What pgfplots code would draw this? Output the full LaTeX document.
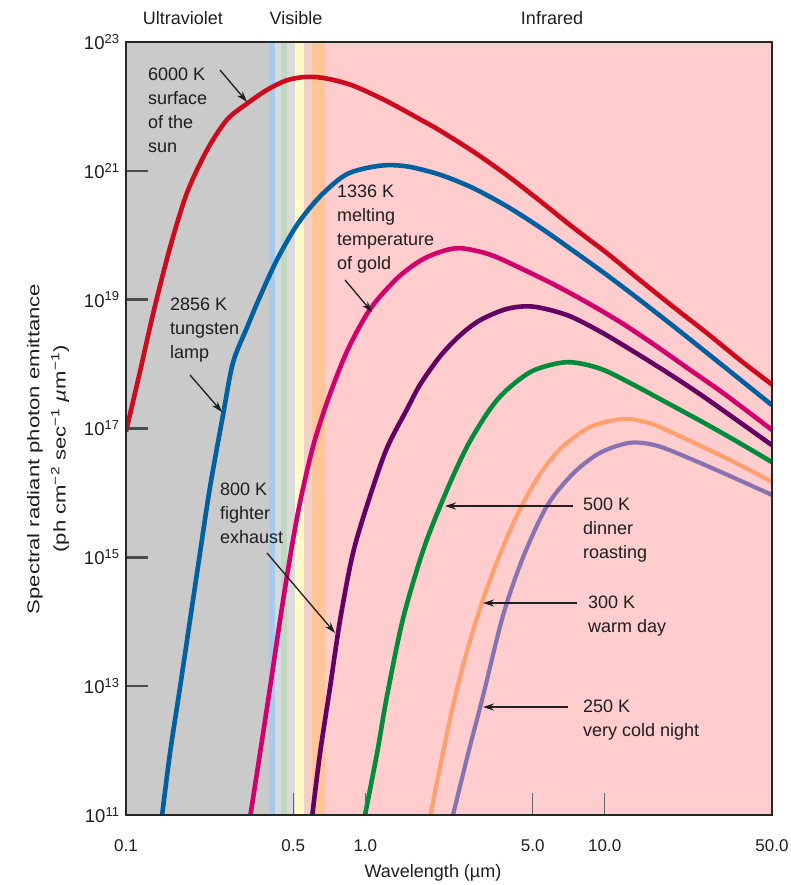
\documentclass[border=0pt]{standalone}
\usepackage{pgfplots}
\pgfplotsset{compat=1.18}
\usetikzlibrary{arrows.meta}
\usepackage{fontspec}
\setmainfont{Liberation Sans}
\newfontfamily\ylabfont[FakeStretch=1.3]{Liberation Sans}
\definecolor{cred}{RGB}{206,10,30}
\definecolor{cblue}{RGB}{0,96,160}
\definecolor{cmag}{RGB}{210,0,110}
\definecolor{cpur}{RGB}{100,0,100}
\definecolor{cgreen}{RGB}{0,140,60}
\definecolor{corange}{RGB}{255,160,110}
\definecolor{clav}{RGB}{135,115,175}
\definecolor{uvgray}{RGB}{202,202,202}
\definecolor{bblue}{RGB}{168,202,236}
\definecolor{blight}{RGB}{212,218,222}
\definecolor{bgreen}{RGB}{192,216,192}
\definecolor{bgray}{RGB}{218,218,218}
\definecolor{byellow}{RGB}{255,250,200}
\definecolor{bpink}{RGB}{242,208,202}
\definecolor{borange}{RGB}{255,196,152}
\definecolor{irpink}{RGB}{255,205,205}
\definecolor{txt}{RGB}{30,30,30}
\begin{document}
\begin{tikzpicture}[x=1pt,y=1pt]
\useasboundingbox (-126,-70) rectangle (665,815);
\begin{axis}[
  at={(0,0)}, anchor=south west,
  scale only axis, width=646pt, height=773pt,
  xmode=log, ymode=log,
  xmin=0.1, xmax=50, ymin=1e11, ymax=1e23,
  axis on top,
  axis line style={line width=2pt, black!85},
  tick align=inside,
  major tick length=22pt,
  xtick={0.1,0.5,1,5,10,50},
  xticklabels={0.1,0.5,1.0,5.0,10.0,50.0},
  ytick={1e11,1e13,1e15,1e17,1e19,1e21,1e23},
  yticklabels={10\textsuperscript{11},10\textsuperscript{13},10\textsuperscript{15},10\textsuperscript{17},10\textsuperscript{19},10\textsuperscript{21},10\textsuperscript{23}},
  minor xtick={}, minor ytick={},
  xtick pos=bottom, ytick pos=left,
  x tick style={line width=1.2pt, black!60},
  y tick style={line width=2.4pt, black!70},
  xticklabel style={font=\fontsize{17}{20}\selectfont, text=txt, yshift=-21pt},
  yticklabel style={font=\fontsize{18.5}{20}\selectfont, text=txt, xshift=-3pt},
  clip=true,
]
% spectral bands
\fill[uvgray] (axis cs:0.1,1e11) rectangle (axis cs:0.396,1e23);
\fill[bblue] (axis cs:0.396,1e11) rectangle (axis cs:0.4196,1e23);
\fill[blight] (axis cs:0.4196,1e11) rectangle (axis cs:0.4443,1e23);
\fill[bgreen] (axis cs:0.4443,1e11) rectangle (axis cs:0.4704,1e23);
\fill[bgray] (axis cs:0.4704,1e11) rectangle (axis cs:0.5085,1e23);
\fill[byellow] (axis cs:0.5085,1e11) rectangle (axis cs:0.5557,1e23);
\fill[bpink] (axis cs:0.5557,1e11) rectangle (axis cs:0.5998,1e23);
\fill[borange] (axis cs:0.5998,1e11) rectangle (axis cs:0.6775,1e23);
\fill[irpink] (axis cs:0.6775,1e11) rectangle (axis cs:50,1e23);

% 6000 K
\addplot[cred, line width=4.6pt, smooth] coordinates {
(0.1,9e16) (0.114,7.2e17) (0.130,6.2e18) (0.153,6.6e19) (0.180,4.6e20)
(0.218,2.1e21) (0.264,6.2e21) (0.320,1.1e22) (0.388,1.8e22) (0.471,2.55e22)
(0.571,2.88e22) (0.692,2.7e22) (0.888,2.1e22) (1.232,1.2e22) (1.693,6.3e21)
(2.052,4.2e21) (2.818,2.0e21) (3.909,8.5e20) (5.370,3.4e20) (7.38,1.32e20)
(10.23,5.25e19) (14.06,2.0e19) (19.32,7.76e18) (26.8,3.0e18) (36.8,1.15e18) (50,4.8e17)};
% 2856 K
\addplot[cblue, line width=4.6pt, smooth] coordinates {
(0.1405,8e10) (0.1527,9.1e11) (0.1681,9.5e12) (0.1851,1.05e14) (0.2038,1.17e15)
(0.2244,1.23e16) (0.2543,1.62e17) (0.2799,1.05e18) (0.3204,3.7e18) (0.3631,1.12e19)
(0.4276,4.17e19) (0.5184,1.45e20) (0.6467,4.0e20) (0.8385,8.9e20) (1.152,1.2e21)
(1.494,1.17e21) (2.052,8.7e20) (2.818,5.4e20) (3.909,2.8e20) (5.370,1.32e20)
(7.38,5.75e19) (10.23,2.4e19) (14.06,9.8e18) (19.32,3.9e18) (26.8,1.48e18)
(36.8,5.75e17) (50,2.3e17)};
% 1336 K
\addplot[cmag, line width=4.6pt, smooth] coordinates {
(0.3280,8e10) (0.3631,9.1e11) (0.3998,9.5e12) (0.4401,1.05e14) (0.4845,1.0e15)
(0.5334,7.1e15) (0.6045,5.25e16) (0.698,2.8e17) (0.8385,1.58e18) (1.046,7.1e18)
(1.357,2.14e19) (1.693,4.0e19) (2.052,5.5e19) (2.488,6.3e19) (3.319,5.0e19)
(4.560,2.95e19) (6.327,1.62e19) (8.69,8.5e18) (11.94,4.2e18) (16.56,1.86e18)
(22.75,8.1e17) (31.25,3.55e17) (50,9.5e16)};
% 800 K
\addplot[cpur, line width=4.6pt, smooth] coordinates {
(0.596,8e10) (0.6467,9.1e11) (0.712,9.5e12) (0.784,1.05e14) (0.8884,1.17e15)
(1.046,8.9e15) (1.232,5.0e16) (1.494,2.0e17) (1.693,4.8e17) (2.052,1.32e18)
(2.488,2.8e18) (3.017,4.8e18) (3.909,7.2e18) (5.02,7.8e18) (6.97,5.75e18)
(9.57,3.2e18) (13.15,1.58e18) (18.23,7.4e17) (25.04,3.4e17) (34.4,1.48e17) (50,5.5e16)};
% 500 K
\addplot[cgreen, line width=4.6pt, smooth] coordinates {
(0.985,8e10) (1.119,9.1e11) (1.232,7.1e12) (1.437,1.12e14) (1.759,1.41e15)
(2.195,1.12e16) (2.686,5.6e16) (3.319,2.0e17) (3.909,4.0e17) (5.02,7.9e17)
(6.97,1.07e18) (9.57,8.5e17) (13.15,4.8e17) (18.23,2.5e17) (25.04,1.32e17)
(34.4,6.8e16) (50,3.0e16)};
% 300 K
\addplot[corange, line width=4.2pt, smooth] coordinates {
(1.85,8e10) (2.052,5.6e11) (2.326,5.0e12) (2.661,3.55e13) (3.104,2.24e14)
(3.655,1.12e15) (4.304,4.5e15) (5.218,1.66e16) (6.51,4.8e16) (8.69,1.05e17)
(11.94,1.41e17) (15.48,1.2e17) (19.32,8.5e16) (26.8,4.8e16) (36.8,2.7e16) (50,1.48e16)};
% 250 K
\addplot[clav, line width=4.2pt, smooth] coordinates {
(2.29,8e10) (2.686,8.9e11) (3.104,7.1e12) (3.763,1.26e14) (4.560,1.0e15)
(5.745,6.3e15) (7.38,2.0e16) (9.57,4.2e16) (12.77,6.0e16) (16.56,5.4e16)
(22.75,3.4e16) (31.25,2.04e16) (50,9.3e15)};
\end{axis}

% top region labels
\begin{scope}[every node/.style={font=\fontsize{18}{22}\selectfont, text=txt, inner sep=0pt}]
\node[anchor=base] at (57,790) {Ultraviolet};
\node[anchor=base] at (170,790) {Visible};
\node[anchor=base] at (426,790) {Infrared};
\node[anchor=center] at (307,-58) {Wavelength (µm)};
\end{scope}

% y label
\node[rotate=90, anchor=center, inner sep=0pt, text=txt] at (-91,366) {\ylabfont\fontsize{17}{20}\selectfont Spectral radiant photon emittance};
\node[rotate=90, anchor=center, inner sep=0pt, text=txt] at (-66,366) {\ylabfont\fontsize{17}{20}\selectfont (ph cm\textsuperscript{−2} sec\textsuperscript{−1} \textit{µ}m\textsuperscript{−1})};

% annotations
\begin{scope}[every node/.style={font=\fontsize{18}{24}\selectfont, text=txt, inner sep=0pt, anchor=north west, align=left}]
\node at (22,747) {6000 K\\surface\\of the\\sun};
\node at (44,517) {2856 K\\tungsten\\lamp};
\node at (211,630) {1336 K\\melting\\temperature\\of gold};
\node at (94,332) {800 K\\fighter\\exhaust};
\node at (457,317) {500 K\\dinner\\roasting};
\node at (462,219) {300 K\\warm day};
\node at (457,115) {250 K\\very cold night};
\end{scope}
\begin{scope}[line width=1.3pt, txt, -{Stealth[length=11pt,width=7pt]}]
\draw (94,745) -- (121,713);
\draw (64,440) -- (96,403);
\draw (219,535) -- (246,503);
\draw (141,262) -- (209,182);
\draw (447,309) -- (319,309);
\draw (451,212) -- (357,212);
\draw (442,108) -- (357,108);
\end{scope}
\end{tikzpicture}
\end{document}
